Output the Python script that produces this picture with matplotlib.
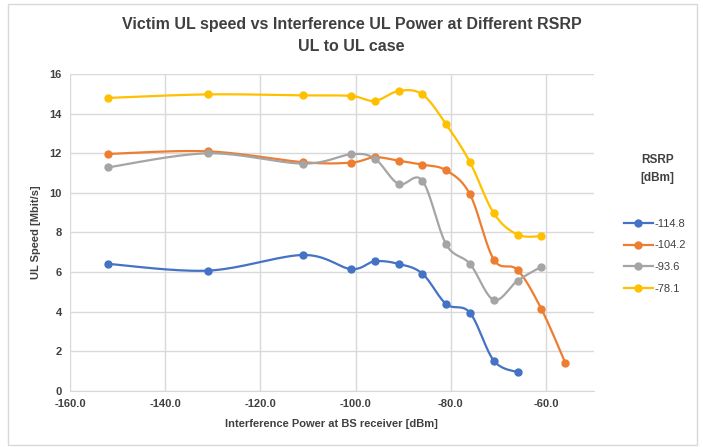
import matplotlib.pyplot as plt
import numpy as np
from matplotlib.patches import Rectangle

plt.rcParams['font.family'] = ['Liberation Sans', 'DejaVu Sans']

# data
x_blue = [-152, -131, -111, -101, -96, -91, -86, -81, -76, -71, -66]
y_blue = [6.41, 6.07, 6.86, 6.15, 6.54, 6.41, 5.92, 4.38, 3.94, 1.52, 0.93]

x_orange = [-152, -131, -111, -101, -96, -91, -86, -81, -76, -71, -66, -61, -56]
y_orange = [11.97, 12.10, 11.55, 11.53, 11.80, 11.63, 11.43, 11.14, 9.93, 6.63, 6.10, 4.13, 1.42]

x_gray = [-152, -131, -111, -101, -96, -91, -86, -81, -76, -71, -66, -61]
y_gray = [11.29, 12.0, 11.48, 11.95, 11.73, 10.45, 10.62, 7.40, 6.41, 4.59, 5.56, 6.27]

x_yellow = [-152, -131, -111, -101, -96, -91, -86, -81, -76, -71, -66, -61]
y_yellow = [14.80, 14.98, 14.93, 14.90, 14.65, 15.15, 14.98, 13.47, 11.55, 8.97, 7.89, 7.81]

labels = ['-114.8', '-104.2', '-93.6', '-78.1']
colors = ['#4472C4', '#ED7D31', '#A5A5A5', '#FFC000']


def smooth(xs, ys, n=20):
    # catmull-rom style curve through the points (like excel "smoothed line")
    xs = np.asarray(xs, float)
    ys = np.asarray(ys, float)
    px = np.concatenate([[xs[0]], xs, [xs[-1]]])
    py = np.concatenate([[ys[0]], ys, [ys[-1]]])
    ox, oy = [], []
    t = np.linspace(0, 1, n)
    for i in range(1, len(px) - 2):
        p0x, p1x, p2x, p3x = px[i - 1], px[i], px[i + 1], px[i + 2]
        p0y, p1y, p2y, p3y = py[i - 1], py[i], py[i + 1], py[i + 2]
        c1x = p1x + (p2x - p0x) / 6
        c1y = p1y + (p2y - p0y) / 6
        c2x = p2x - (p3x - p1x) / 6
        c2y = p2y - (p3y - p1y) / 6
        bx = (1-t)**3*p1x + 3*(1-t)**2*t*c1x + 3*(1-t)*t**2*c2x + t**3*p2x
        by = (1-t)**3*p1y + 3*(1-t)**2*t*c1y + 3*(1-t)*t**2*c2y + t**3*p2y
        ox.extend(bx)
        oy.extend(by)
    return ox, oy


fig = plt.figure(figsize=(7.03, 4.47), dpi=100)
fig.patches.append(Rectangle((0.011, 0.005), 0.98, 0.985, transform=fig.transFigure,
                             fill=False, edgecolor='#d9d9d9', linewidth=1))
ax = fig.add_axes([0.0996, 0.126, 0.745, 0.708])

series = [(x_blue, y_blue), (x_orange, y_orange), (x_gray, y_gray), (x_yellow, y_yellow)]
handles = []
for (xs, ys), c, lab in zip(series, colors, labels):
    sx, sy = smooth(xs, ys)
    ax.plot(sx, sy, color=c, linewidth=1.6, zorder=3)
    ax.plot(xs, ys, 'o', color=c, markersize=5, zorder=4)
    h, = ax.plot([], [], '-o', color=c, linewidth=1.6, markersize=5, label=lab)
    handles.append(h)

ax.set_xlim(-160, -50)
ax.set_ylim(0, 16)
ax.set_xticks(np.arange(-160, -59, 20))
ax.set_xticklabels(['%.1f' % v for v in np.arange(-160, -59, 20)])
ax.set_yticks(np.arange(0, 17, 2))
ax.grid(True, color='#d9d9d9', linewidth=1)
ax.set_axisbelow(True)
for s in ['top', 'right', 'left']:
    ax.spines[s].set_visible(False)
ax.spines['bottom'].set_color('#d9d9d9')
ax.tick_params(length=0, labelsize=8, colors='#404040', pad=6)
for lbl in ax.get_xticklabels() + ax.get_yticklabels():
    lbl.set_fontweight('bold')

ax.set_xlabel('Interference Power at BS receiver [dBm]', fontsize=8, color='#404040',
              fontweight='bold', labelpad=7)
ax.set_ylabel('UL Speed [Mbit/s]', fontsize=8, color='#404040', fontweight='bold', labelpad=6)

title_font = ['DejaVu Sans Condensed', 'Liberation Sans Narrow', 'Liberation Sans']
fig.text(0.5, 0.945, 'Victim UL speed vs Interference UL Power at Different RSRP',
         ha='center', va='center', fontsize=11.5, fontweight='bold', color='#404040',
         family=title_font)
fig.text(0.5, 0.895, 'UL to UL case', ha='center', va='center', fontsize=11.5,
         fontweight='bold', color='#404040', family=title_font)

fig.text(0.935, 0.622, 'RSRP\n[dBm]', ha='center', va='center', fontsize=8.5,
         fontweight='bold', color='#404040', linespacing=1.6)
leg = fig.legend(handles=handles, loc='upper left', bbox_to_anchor=(0.873, 0.533),
                 frameon=False, fontsize=8, handlelength=2.6, labelspacing=1.05,
                 handletextpad=0.2, labelcolor='#404040')

fig.savefig('out.png', dpi=100)
